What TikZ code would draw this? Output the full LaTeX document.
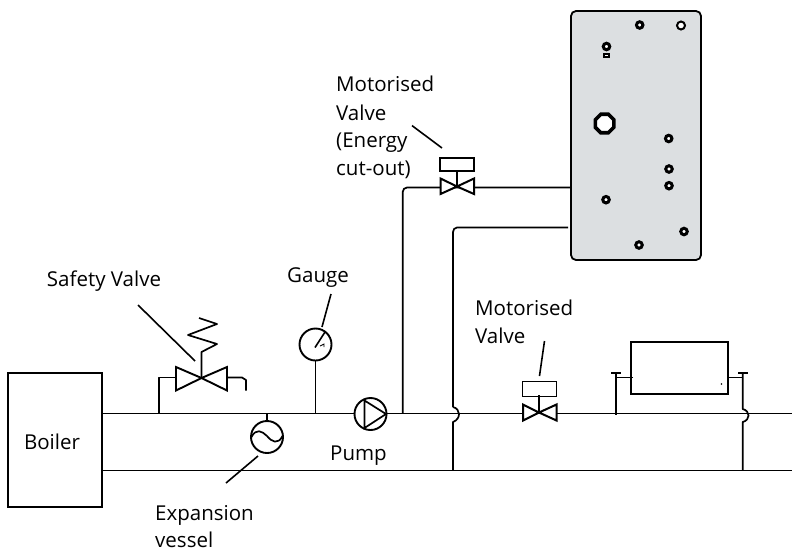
\documentclass[tikz,border=0pt]{standalone}
\usepackage{fontspec}
\usetikzlibrary{shapes.geometric}
\setmainfont{Open Sans}
\tikzset{
 pipe/.style={line width=1.7pt,line join=round},
 leader/.style={line width=1.6pt},
 lab/.style={font=\fontsize{20.5}{22}\selectfont,inner sep=0pt,text=black,anchor=base},
 llab/.style={lab,anchor=base west},
 comp/.style={draw,line width=1.9pt,fill=white,inner sep=0pt,minimum size=32pt,circle},
 motor/.style={draw,line width=1.9pt,fill=white,inner sep=0pt,rectangle},
 port/.style={circle,draw,line width=3pt,fill=white,inner sep=0pt,minimum size=6.5pt},
}
\definecolor{panelgrey}{HTML}{DCDFE1}
\begin{document}
\begin{tikzpicture}[x=1pt,y=-1pt]
\useasboundingbox (0,0) rectangle (792,550);
% panel
\node[draw,line width=1.8pt,fill=panelgrey,rounded corners=5pt,inner sep=0pt,minimum width=130pt,minimum height=249pt] (panel) at (636,135.5) {};
\foreach \n/\x/\y in {p1/639.7/25,p3/606.5/46.5,p4/668.7/138.5,p5/669/169,p6/669/185.7,p7/606/199.7,p8/684/231.5,p9/639/245}
 \node[port] (\n) at (\x,\y) {};
\node[circle,draw,line width=2pt,fill=white,inner sep=0pt,minimum size=8pt] (p2) at (681,25.5) {};
\node[draw,line width=2pt,fill=white,inner sep=0pt,minimum width=5.5pt,minimum height=3pt] (p3b) at (606.5,55) {};
\node[regular polygon,regular polygon sides=8,draw,line width=3.6pt,fill=white,inner sep=0pt,minimum size=20pt] (oct) at (604.6,123.5) {};
% boiler
\node[draw,line width=1.7pt,inner sep=0pt,minimum width=94pt,minimum height=133.5pt] (boiler) at (55,440) {};
\node[lab] (boilertxt) at (52,449) {Boiler};
% junction coordinates
\coordinate (supL) at (103,413.5);
\coordinate (supR) at (792,413.5);
\coordinate (retL) at (103,470.5);
\coordinate (retR) at (792,470.5);
\coordinate (j1) at (159,413.5);
\coordinate (j2) at (315.5,413.5);
\coordinate (j3) at (267,413.5);
\coordinate (j4) at (402.7,413.5);
\coordinate (j5) at (453,470.5);
\coordinate (j6) at (742.7,470.5);
\coordinate (j7) at (616,415);
% pipes
\draw[pipe] (supL) -- (supR);
\draw[pipe] (retL) -- (retR);
% pump
\node[comp] (pump) at (370.5,414) {};
\draw[pipe,line join=miter] (364.5,400.5) -- (386,414) -- (364.5,428) -- cycle;
% expansion
\node[comp] (exp) at (267,437) {};
\draw[pipe] (j3) -- (exp.north);
\draw[pipe] (251.5,437) .. controls (256,428) and (262,431) .. (267,436) .. controls (272,442) and (278,445) .. (282.5,436);
\coordinate (l3a) at (258,456); \coordinate (l3b) at (226,483);
\draw[leader] (l3a) -- (l3b);
% gauge
\node[comp] (gauge) at (315.5,344.5) {};
\draw[pipe] (gauge) -- (j2);
\draw[leader] (315,347.5) -- (325,332);
\draw[line width=.9pt] (320,346) -- (324,344) -- (324,347);
\coordinate (l2a) at (331,294); \coordinate (l2b) at (322,327);
\draw[leader] (l2a) -- (l2b);
% safety valve
\coordinate (sv) at (201.5,378);
\draw[pipe,line join=miter,line width=1.9pt] (sv) -- (176,367) -- (176,390.5) -- cycle;
\draw[pipe,line join=miter,line width=1.9pt] (sv) -- (227,367) -- (227,390.5) -- cycle;
\draw[pipe] (j1) -- (159,377.5) -- (176,377.5);
\draw[pipe] (227,377.5) -- (242,377.5) -- (246,380) -- (246,390.5);
\draw[pipe] (sv) -- (201.5,352) -- (217,344) -- (188,335) -- (217,324) -- (199,318);
\coordinate (l1a) at (138,305); \coordinate (l1b) at (195,361);
\draw[leader] (l1a) -- (l1b);
% lower motorised valve
\coordinate (mv) at (539,412.5);
\draw[pipe,line join=miter,line width=2pt,fill=white] (mv) -- (523,404.5) -- (523,420.5) -- cycle;
\draw[pipe,line join=miter,line width=2pt,fill=white] (mv) -- (556.5,404.5) -- (556.5,420.5) -- cycle;
\node[motor,minimum width=34pt,minimum height=15pt] (mvbox) at (539.5,389) {};
\draw[pipe] (mvbox.south) ++(-0.5,-2) -- (mv);
\coordinate (l4a) at (544.5,341); \coordinate (l4b) at (539.5,376);
\draw[leader] (l4a) -- (l4b);
% upper motorised valve
\coordinate (uv) at (457,186.5);
\draw[pipe] (j4) -- (402.7,192) to[out=90,in=180] (407,187.5) -- (panel.west |- 0,187.5);
\draw[pipe] (453,407) .. controls (461,409) and (461,419) .. (453,422) -- (j5);
\draw[pipe] (453,407) -- (453,232) to[out=90,in=180] (457,227.5) -- (568,227.5);
\draw[pipe,line join=miter,line width=2pt,fill=white] (uv) -- (440.5,178.5) -- (440.5,194) -- cycle;
\draw[pipe,line join=miter,line width=2pt,fill=white] (uv) -- (474,178.5) -- (474,194) -- cycle;
\node[motor,minimum width=34pt,minimum height=13pt] (uvbox) at (457,164.5) {};
\draw[pipe] (uvbox.south) -- (uv);
\coordinate (l5a) at (412,125.6); \coordinate (l5b) at (442,148);
\draw[leader] (l5a) -- (l5b);
% radiator
\node[draw,line width=1.9pt,inner sep=0pt,minimum width=97.5pt,minimum height=52.5pt] (rad) at (679.5,368) {};
\fill (721.5,384) circle (.9pt);
\coordinate (rl) at (616,377.5); \coordinate (rr) at (743,377.5);
\draw[pipe] (633,377.5) -- (rl);
\draw[pipe] (728,377.5) -- (rr);
\draw[pipe] (616,373) -- (j7);
\draw[pipe] (611,373) -- (621,373);
\draw[pipe] (738,373) -- (748,373);
\draw[pipe] (742.7,373) -- (742.7,409) .. controls (750.5,411) and (750.5,420) .. (742.7,422) -- (j6);
% labels
\node[lab] (t1) at (104,286) {Safety Valve};
\node[lab] (t2) at (318,282) {Gauge};
\node[lab] (t3) at (358.5,460) {Pump};
\node[llab] (t4) at (155,520.5) {Expansion};
\node[llab] (t5) at (155,547.5) {vessel};
\node[llab] (t6) at (475,315) {Motorised};
\node[llab] (t7) at (475,343) {Valve};
\node[llab] (t8) at (336,91.7) {Motorised};
\node[llab] (t9) at (336,120) {Valve};
\node[llab] (t10) at (336,147) {(Energy};
\node[llab] (t11) at (336,175) {cut-out)};
\end{tikzpicture}
\end{document}
